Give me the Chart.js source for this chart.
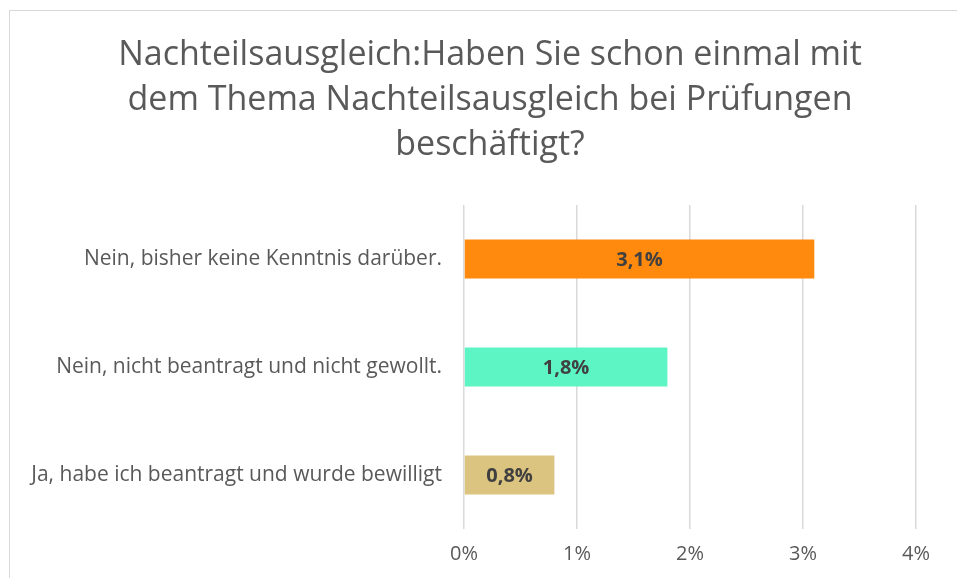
<!DOCTYPE html>
<html>
<head>
<meta charset="utf-8">
<script src="https://cdn.jsdelivr.net/npm/chart.js@4"></script>
<style>
  body { margin: 0; background: #fff; }
  #wrap { position: relative; width: 957px; height: 578px; overflow: hidden; }
  #frame { position: absolute; left: 9px; top: 10px; width: 1000px; height: 700px; border: 1.5px solid #d9d9d9; box-sizing: border-box; }
  canvas { position: absolute; left: 0; top: 0; }
</style>
</head>
<body>
<div id="wrap">
  <div id="frame"></div>
  <canvas id="chart" width="957" height="578"></canvas>
</div>
<script>
// Chart data
const categories = [
    'Nein, bisher keine Kenntnis darüber.',
    'Nein, nicht beantragt und nicht gewollt.',
    'Ja, habe ich beantragt und wurde bewilligt'
];
const values = [3.1, 1.8, 0.8];
const barColors = ['#FF8A0D', '#5CF5C3', '#DBC47F'];
const tickLabels = ['0%', '1%', '2%', '3%', '4%'];
const titleLines = [
    'Nachteilsausgleich:Haben Sie schon einmal mit',
    'dem Thema Nachteilsausgleich bei Prüfungen',
    'beschäftigt?'
];

// Title centred on the chart frame (not on the canvas)
const frameTitle = {
    id: 'frameTitle',
    afterDraw(chart) {
        const ctx = chart.ctx;
        ctx.save();
        ctx.font = '34px "Open Sans"';
        ctx.fillStyle = '#595959';
        ctx.textAlign = 'center';
        ctx.textBaseline = 'middle';
        titleLines.forEach((line, i) => {
            ctx.fillText(line, 490, 55 + i * 45);
        });
        ctx.restore();
    }
};

// Draw value labels in the middle of each bar
const barLabels = {
    id: 'barLabels',
    afterDatasetsDraw(chart) {
        const ctx = chart.ctx;
        const meta = chart.getDatasetMeta(0);
        ctx.save();
        ctx.font = 'bold 20px "Open Sans"';
        ctx.fillStyle = '#404040';
        ctx.textAlign = 'center';
        ctx.textBaseline = 'middle';
        meta.data.forEach((bar, i) => {
            const mid = (bar.x + bar.base) / 2;
            ctx.fillText(values[i].toFixed(1).replace('.', ',') + '%', mid, bar.y + 1);
        });
        ctx.restore();
    }
};

const ctx = document.getElementById('chart').getContext('2d');
new Chart(ctx, {
    type: 'bar',
    data: {
        labels: categories,
        datasets: [{
            data: values,
            backgroundColor: barColors,
            categoryPercentage: 1,
            barPercentage: 0.36
        }]
    },
    options: {
        indexAxis: 'y',
        responsive: false,
        animation: false,
        layout: { padding: { left: 0, right: 41, top: 205, bottom: 0 } },
        plugins: {
            legend: { display: false },
            tooltip: { enabled: false },
            title: { display: false }
        },
        scales: {
            x: {
                min: 0,
                max: 4,
                afterBuildTicks(scale) {
                    scale.ticks = tickLabels.map((t, i) => ({ value: i }));
                },
                afterFit(scale) { scale.height = 49; },
                ticks: {
                    callback: (v, i) => tickLabels[i],
                    color: '#595959',
                    font: { family: '"Open Sans"', size: 20 },
                    padding: 13
                },
                grid: { color: '#d9d9d9', lineWidth: 1.5, drawTicks: false },
                border: { display: false }
            },
            y: {
                afterFit(scale) { scale.width = 464; },
                ticks: {
                    color: '#595959',
                    font: { family: '"Open Sans"', size: 21 },
                    padding: 14
                },
                grid: { display: false },
                border: { display: false }
            }
        }
    },
    plugins: [barLabels, frameTitle]
});
</script>
</body>
</html>
